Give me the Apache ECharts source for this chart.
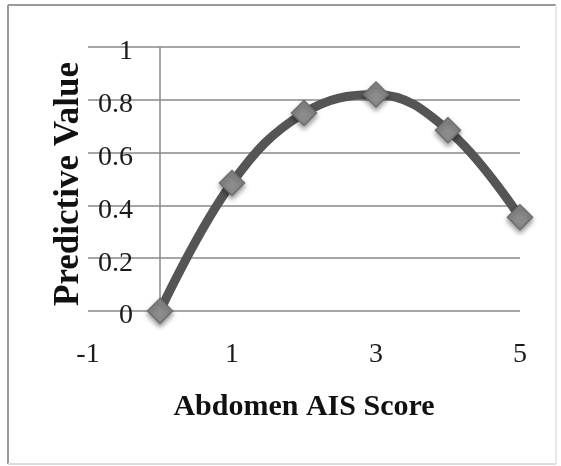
<!DOCTYPE html>
<html><head><meta charset="utf-8">
<script src="https://cdn.jsdelivr.net/npm/echarts@6/dist/echarts.min.js"></script>
<style>html,body{margin:0;padding:0;background:#fff}#c{width:561px;height:466px}</style>
</head><body><div id="c"></div>
<script>
var xValues = [0, 1, 2, 3, 4, 5];
var yValues = [0, 0.485, 0.75, 0.82, 0.685, 0.355];
var xTitle = 'Abdomen AIS Score';
var yTitle = 'Predictive Value';

var chart = echarts.init(document.getElementById('c'), null, {renderer: 'canvas'});
var serif = 'Liberation Serif';
chart.setOption({
  animation: false,
  backgroundColor: '#fff',
  graphic: [
    {type: 'line', shape: {x1: 8, y1: 5, x2: 556, y2: 5}, style: {stroke: '#999', lineWidth: 2}},
    {type: 'line', shape: {x1: 8, y1: 5, x2: 8, y2: 464}, style: {stroke: '#999', lineWidth: 2}},
    {type: 'line', shape: {x1: 556, y1: 5, x2: 556, y2: 464}, style: {stroke: '#e8e8e8', lineWidth: 2}},
    {type: 'line', shape: {x1: 8, y1: 464, x2: 556, y2: 464}, style: {stroke: '#ddd', lineWidth: 2}}
  ],
  grid: {left: 88, right: 41, top: 47, bottom: 155, containLabel: false, outerBoundsMode: 'none'},
  xAxis: {
    type: 'value', min: -1, max: 5, interval: 2,
    name: xTitle, nameLocation: 'middle', nameGap: 81,
    nameTextStyle: {fontFamily: serif, fontWeight: 'bold', fontSize: 30, color: '#111'},
    axisLine: {show: false},
    axisTick: {show: false},
    splitLine: {show: false},
    axisLabel: {fontFamily: serif, fontSize: 28, color: '#1a1a1a', margin: 30}
  },
  yAxis: {
    type: 'value', min: 0, max: 1, interval: 0.2,
    name: yTitle, nameLocation: 'middle', nameGap: 2, nameRotate: 90, nameMoveOverlap: false,
    nameTextStyle: {fontFamily: serif, fontWeight: 'bold', fontSize: 35, color: '#111', padding: [0, 10, 0, 0]},
    axisLine: {show: false, onZero: false},
    axisTick: {show: false},
    splitLine: {show: true, lineStyle: {color: '#888', width: 1.5}},
    axisLabel: {fontFamily: serif, fontSize: 28, color: '#1a1a1a', margin: -45,
      verticalAlign: 'top', lineHeight: 10}
  },
  series: [{
    type: 'line',
    data: xValues.map(function (x, i) { return [x, yValues[i]]; }),
    smooth: 0.4,
    lineStyle: {color: '#555', width: 9},
    symbol: 'diamond',
    symbolSize: 25,
    itemStyle: {color: '#8c8c8c', borderColor: '#6e6e6e', borderWidth: 1.5,
      shadowColor: 'rgba(0,0,0,0.4)', shadowBlur: 5, shadowOffsetY: 3},
    markLine: {
      silent: true, symbol: 'none', label: {show: false},
      lineStyle: {color: '#888', width: 1.5, type: 'solid'},
      z: 1,
      data: [{xAxis: 0}]
    }
  }]
});
</script></body></html>
